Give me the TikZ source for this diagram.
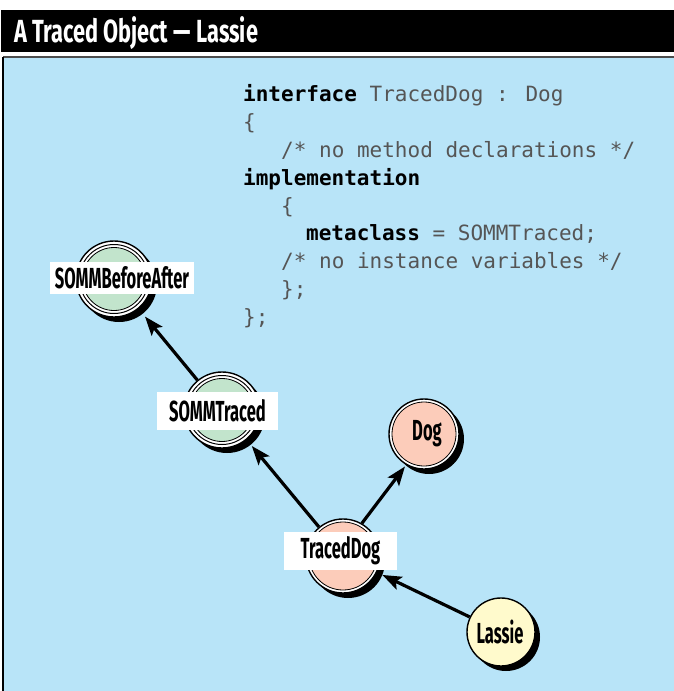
\documentclass[tikz,border=0pt]{standalone}
\usepackage{fontspec}
\usetikzlibrary{arrows.meta}
\newfontfamily\lblfont[FakeStretch=0.57]{Fira Sans}
\newfontfamily\titlefont[FakeStretch=0.68]{Fira Sans}
\newfontfamily\codefont{DejaVu Sans Mono}
\definecolor{panelblue}{RGB}{184,228,248}
\definecolor{mintgreen}{RGB}{194,228,204}
\definecolor{salmon}{RGB}{252,204,186}
\definecolor{cream}{RGB}{255,250,204}
\definecolor{codegray}{RGB}{85,85,85}
\begin{document}
\begin{tikzpicture}[x=1pt,y=-1pt,
  shadowc/.style={fill=black},
  outerring/.style={circle, draw=black, line width=1.4pt, fill=white, inner sep=0pt, minimum size=#1},
  innerring/.style={draw=black, line width=1pt, fill=white},
  corering/.style={draw=black, line width=0.8pt, fill=#1},
  labelbox/.style={fill=white, inner sep=0pt, font=\lblfont\bfseries\fontsize{29}{29}\selectfont},
  plainlabel/.style={inner sep=0pt, font=\lblfont\bfseries\fontsize{29}{29}\selectfont},
  codeline/.style={anchor=base west, inner sep=0pt, font=\codefont\fontsize{21}{21}\selectfont, text=codegray},
  link/.style={line width=3.2pt, -{Stealth[length=19pt,width=14pt,inset=4pt]}},
  titletext/.style={anchor=base west, inner sep=0pt, text=white, font=\titlefont\bfseries\fontsize{32}{32}\selectfont}
]
\useasboundingbox (0,0) rectangle (674,691);
% title bar
\fill[black] (1,10) rectangle (674,52);
\node[titletext] (title) at (14,42) {A Traced Object\,—\,Lassie};
% panel
\fill[panelblue] (3,57) rectangle (674,691);
\draw[gray!60!black, line width=1.2pt] (3,57) -- (674,57);
\draw[black, line width=2pt] (3,57) -- (3,691);

% code
\node[codeline] (c1) at (243,101) {\textcolor{black}{\bfseries interface} TracedDog : Dog};
\node[codeline] (c2) at (243,129) {\{};
\node[codeline] (c3) at (281,157) {/* no method declarations */};
\node[codeline] (c4) at (243,185) {\textcolor{black}{\bfseries implementation}};
\node[codeline] (c5) at (281,213) {\{};
\node[codeline] (c6) at (306,240) {\textcolor{black}{\bfseries metaclass} = SOMMTraced;};
\node[codeline] (c7) at (281,268) {/* no instance variables */};
\node[codeline] (c8) at (281,296) {\};};
\node[codeline] (c9) at (243,324) {\};};

% SOMMBeforeAfter
\fill[shadowc] (119,284) circle (38pt);
\node[outerring=76pt] (bfa) at (114,279) {};
\draw[innerring] (bfa.center) circle (34.5pt);
\draw[corering=mintgreen] (bfa.center) circle (31.5pt);

% SOMMTraced
\fill[shadowc] (227,415) circle (38pt);
\node[outerring=76pt] (st) at (222,410) {};
\draw[innerring] (st.center) circle (34.5pt);
\draw[corering=mintgreen] (st.center) circle (31.5pt);

% Dog
\fill[shadowc] (429,439) circle (35pt);
\node[outerring=70pt] (dog) at (424,434) {};
\draw[corering=salmon] (dog.center) circle (32pt);

% TracedDog
\fill[shadowc] (348,561) circle (37pt);
\node[outerring=74pt] (td) at (343,556) {};
\draw[corering=salmon] (td.center) circle (34pt);

% Lassie
\fill[shadowc] (506,637) circle (34pt);
\node[circle, draw=black, line width=1.4pt, fill=cream, inner sep=0pt, minimum size=68pt] (las) at (501,632) {};

% connectors
\draw[link, shorten >=10pt] (st) -- (bfa);
\draw[link, shorten >=8pt] (td) -- (st);
\draw[link, shorten >=2pt] (td.60) -- (dog.240);
\draw[link, shorten >=6pt] (las) -- (td);

% labels
\node[labelbox, minimum width=144pt, minimum height=32pt] (bfalbl) at (122,278) {SOMMBeforeAfter};
\node[labelbox, minimum width=121pt, minimum height=38pt] (stlbl) at (217.5,411) {SOMMTraced};
\node[labelbox, minimum width=113pt, minimum height=38pt] (tdlbl) at (340.5,551) {TracedDog};
\node[plainlabel] (doglbl) at (427,434) {Dog};
\node[plainlabel] (laslbl) at (500,632) {Lassie};
\end{tikzpicture}
\end{document}
